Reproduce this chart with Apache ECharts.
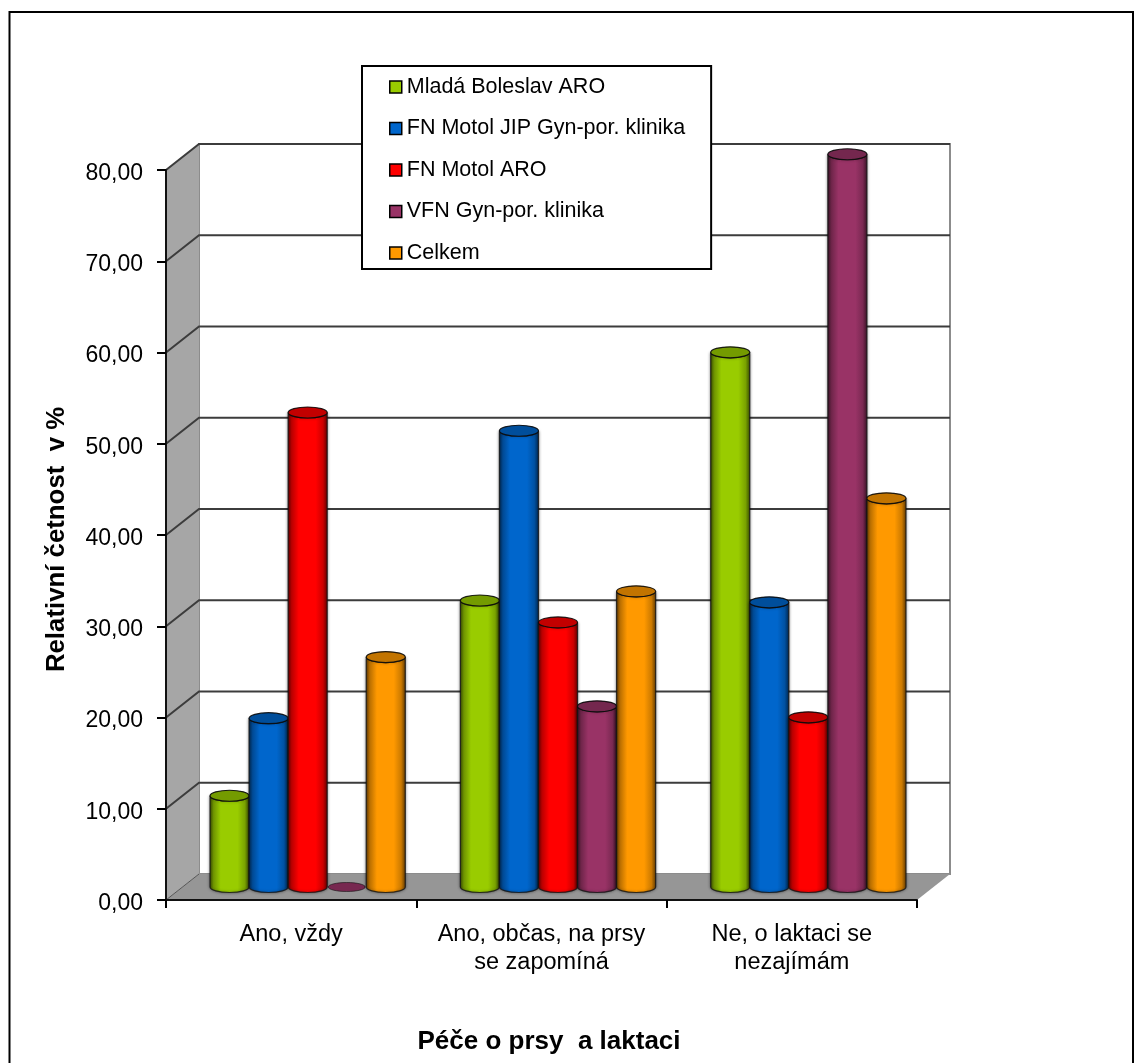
<!DOCTYPE html>
<html>
<head>
<meta charset="utf-8">
<style>html,body{margin:0;padding:0;background:#fff}#chart{width:1143px;height:1063px}</style>
<script src="https://cdn.jsdelivr.net/npm/echarts@6/dist/echarts.min.js"></script>
</head>
<body>
<div id="chart"></div>
<script>
// Kategorie a hodnoty (relativní četnost v %)
const categories = ['Ano, vždy', 'Ano, občas, na prsy\nse zapomíná', 'Ne, o laktaci se\nnezajímám'];
const seriesNames = ['Mladá Boleslav ARO', 'FN Motol JIP Gyn-por. klinika', 'FN Motol ARO', 'VFN Gyn-por. klinika', 'Celkem'];
const mladaBoleslav = [10.0, 31.4, 58.6];
const motolJip = [18.5, 50.0, 31.2];
const motolAro = [52.0, 29.0, 18.6];
const vfn = [0.0, 19.8, 80.3];
const celkem = [25.2, 32.4, 42.6];
const seriesValues = [mladaBoleslav, motolJip, motolAro, vfn, celkem];
const seriesColors = ['#99CC00', '#0066CC', '#FF0000', '#993366', '#FF9900'];
const yTicks = [0, 10, 20, 30, 40, 50, 60, 70, 80];

// Hloubka prostorové krabice grafu
const DEPTH_X = 33, DEPTH_Y = -26;
const BAR_RATIO = 0.156, BAR_RY = 5.5;
const FONT = '"Liberation Sans", Arial, sans-serif';

function shade(hex, k) {
  const n = parseInt(hex.slice(1), 16);
  const c = [(n >> 16) & 255, (n >> 8) & 255, n & 255].map(v => Math.round(v * k));
  return 'rgb(' + c.join(',') + ')';
}

// Stěny a podlaha krabice + vodorovné mřížky na zadní stěně
function renderBox(params, api) {
  const cs = params.coordSys;
  const x0 = cs.x, x1 = cs.x + cs.width;
  const yBase = api.coord([0, 0])[1], yTop = api.coord([0, 80])[1];
  const kids = [];
  kids.push({ type: 'polygon', shape: { points: [[x0 + DEPTH_X, yTop + DEPTH_Y], [x1 + DEPTH_X, yTop + DEPTH_Y], [x1 + DEPTH_X, yBase + DEPTH_Y], [x0 + DEPTH_X, yBase + DEPTH_Y]] }, style: { fill: '#fff', stroke: '#8c8c8c', lineWidth: 2 } });
  kids.push({ type: 'polygon', shape: { points: [[x0, yTop], [x0 + DEPTH_X, yTop + DEPTH_Y], [x0 + DEPTH_X, yBase + DEPTH_Y], [x0, yBase]] }, style: { fill: '#A6A6A6' } });
  kids.push({ type: 'polygon', shape: { points: [[x0, yBase], [x0 + DEPTH_X, yBase + DEPTH_Y], [x1 + DEPTH_X, yBase + DEPTH_Y], [x1, yBase]] }, style: { fill: '#969696' } });
  yTicks.forEach(t => {
    if (t === 0) return;
    const y = api.coord([0, t])[1];
    kids.push({ type: 'polyline', shape: { points: [[x0, y], [x0 + DEPTH_X, y + DEPTH_Y], [x1 + DEPTH_X, y + DEPTH_Y]] }, style: { fill: 'none', stroke: '#3c3c3c', lineWidth: 2 } });
  });
  kids.push({ type: 'line', shape: { x1: x0, y1: yBase, x2: x0 + DEPTH_X, y2: yBase + DEPTH_Y }, style: { stroke: '#555', lineWidth: 1 } });
  return { type: 'group', children: kids };
}

// Válcový sloupec jedné řady
function cylinder(seriesIndex, color) {
  return function (params, api) {
    const cat = api.value(0), val = api.value(1);
    const top = api.coord([cat, val]), base = api.coord([cat, 0]);
    const band = api.size([1, 0])[0];
    const w = band * BAR_RATIO;
    const cx = base[0] + DEPTH_X / 2 + (seriesIndex - 2) * w;
    const l = cx - w / 2, r = cx + w / 2;
    const yT = top[1] + DEPTH_Y / 2, yB = base[1] + DEPTH_Y / 2;
    const rx = w / 2;
    const body = {
      type: 'path',
      shape: { pathData: `M${l} ${yT}L${l} ${yB}A${rx} ${BAR_RY} 0 0 0 ${r} ${yB}L${r} ${yT}A${rx} ${BAR_RY} 0 0 1 ${l} ${yT}Z` },
      style: {
        fill: {
          type: 'linear', x: 0, y: 0, x2: 1, y2: 0,
          colorStops: [
            { offset: 0, color: shade(color, 0.38) },
            { offset: 0.1, color: shade(color, 0.72) },
            { offset: 0.28, color: color },
            { offset: 0.7, color: color },
            { offset: 0.88, color: shade(color, 0.8) },
            { offset: 1, color: shade(color, 0.42) }
          ]
        },
        stroke: 'rgba(20,20,20,0.8)', lineWidth: 1.2,
        shadowBlur: 3, shadowColor: 'rgba(0,0,0,0.45)'
      }
    };
    const cap = {
      type: 'ellipse',
      shape: { cx: cx, cy: yT, rx: rx, ry: BAR_RY },
      style: { fill: shade(color, 0.76), stroke: 'rgba(10,10,10,0.9)', lineWidth: 1.2 }
    };
    if (val === 0) return { type: 'group', children: [{ type: 'ellipse', shape: { cx: cx, cy: yT, rx: rx - 1, ry: BAR_RY - 1 }, style: { fill: shade(color, 0.78), stroke: 'rgba(20,20,20,0.6)', lineWidth: 1 } }] };
    return { type: 'group', children: [body, cap] };
  };
}

const series = [{
  type: 'custom', name: 'box', silent: true, z: 1,
  renderItem: renderBox, data: [[0, 0]], encode: { x: 0, y: 1 }
}];
seriesNames.forEach((name, i) => {
  series.push({
    type: 'custom', name: name, z: 2 + i,
    itemStyle: { color: seriesColors[i] },
    renderItem: cylinder(i, seriesColors[i]),
    encode: { x: 0, y: 1 },
    data: seriesValues[i].map((v, c) => [c, v])
  });
});

const chart = echarts.init(document.getElementById('chart'));
chart.setOption({
  animation: false,
  backgroundColor: '#fff',
  graphic: [{
    type: 'rect', z: -10, silent: true,
    shape: { x: 9.5, y: 12, width: 1123.5, height: 1100 },
    style: { fill: '#fff', stroke: '#000', lineWidth: 2 }
  }],
  grid: { left: 166, top: 170, width: 751, height: 730, containLabel: false },
  xAxis: {
    type: 'category', data: categories, boundaryGap: true, z: 30,
    axisLine: { lineStyle: { color: '#111', width: 2 } },
    axisTick: { show: true, length: 8, alignWithLabel: false, lineStyle: { color: '#000', width: 2 } },
    axisLabel: { color: '#000', fontFamily: FONT, fontSize: 23.5, lineHeight: 28, margin: 21, interval: 0 },
    splitLine: { show: false }
  },
  yAxis: {
    type: 'value', min: 0, max: 80, interval: 10, z: 30,
    axisLine: { show: true, lineStyle: { color: '#111', width: 2 } },
    axisTick: { show: true, length: 9, lineStyle: { color: '#000', width: 2 } },
    // Prázdný první řádek posouvá popisek o kousek níž vůči značce osy
    axisLabel: { color: '#000', fontFamily: FONT, fontSize: 23, margin: 23, lineHeight: 7, formatter: v => '\n' + v.toFixed(2).replace('.', ',') },
    splitLine: { show: false },
    name: 'Relativní četnost  v %', nameLocation: 'middle', nameGap: 96,
    nameTextStyle: { color: '#000', fontFamily: FONT, fontWeight: 'bold', fontSize: 25.8, padding: [0, 9, 0, 0] }
  },
  title: {
    text: 'Péče o prsy  a laktaci', left: 544, top: 1024, textAlign: 'center',
    textStyle: { color: '#000', fontFamily: FONT, fontWeight: 'bold', fontSize: 26 }
  },
  legend: {
    data: seriesNames, orient: 'vertical', left: 362, top: 66, z: 40,
    backgroundColor: '#fff', borderColor: '#000', borderWidth: 2,
    padding: [10, 26, 5, 27], itemGap: 19.5, itemWidth: 12, itemHeight: 12,
    icon: 'rect', selectedMode: false,
    itemStyle: { borderColor: '#000', borderWidth: 1.5 },
    textStyle: { color: '#000', fontFamily: FONT, fontSize: 21.5, padding: [0, 0, 0, 0] }
  },
  series: series
});
</script>
</body>
</html>
